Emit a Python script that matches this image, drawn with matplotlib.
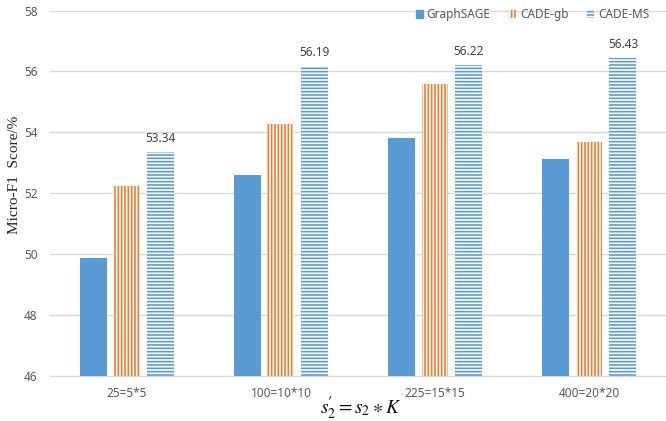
import matplotlib
matplotlib.use("Agg")
import matplotlib.pyplot as plt
import numpy as np
from matplotlib.patches import Patch

categories = ["25=5*5", "100=10*10", "225=15*15", "400=20*20"]
graphsage = [49.88, 52.60, 53.83, 53.11]
cade_gb = [52.25, 54.27, 55.59, 53.69]
cade_ms = [53.34, 56.19, 56.22, 56.43]
series_names = ["GraphSAGE", "CADE-gb", "CADE-MS"]
yticks = [46, 48, 50, 52, 54, 56, 58]

blue = "#5B9BD5"
orange = "#ED7D31"
grey_txt = "#595959"

plt.rcParams["hatch.linewidth"] = 1.2
plt.rcParams["font.family"] = ["Noto Sans", "DejaVu Sans"]
plt.rcParams["mathtext.fontset"] = "stix"

fig = plt.figure(figsize=(6.66, 4.21), dpi=100)
ax = fig.add_axes([0.075, 0.107, 0.925, 0.868])

x = np.arange(len(categories))
w = 0.175
off = 0.22
ax.bar(x - off, graphsage, w, color=blue, zorder=3)
ax.bar(x, cade_gb, w, facecolor="white", edgecolor=orange, hatch="|||||", linewidth=0, zorder=3)
ax.bar(x + off, cade_ms, w, facecolor="white", edgecolor=blue, hatch="-----", linewidth=0, zorder=3)

for xi, v in zip(x, cade_ms):
    ax.annotate(f"{v:.2f}", (xi + off, v), xytext=(0, 5), textcoords="offset points",
                ha="center", va="bottom", fontsize=8.5, color="#404040")

ax.set_ylim(46, 58)
ax.set_xlim(-0.5, 3.5)
ax.set_yticks(yticks)
ax.set_yticklabels([str(t) for t in yticks])
ax.set_xticks(x)
ax.set_xticklabels(categories)
ax.tick_params(axis="both", length=0, colors=grey_txt, labelsize=8.5)
ax.tick_params(axis="x", pad=8)
ax.tick_params(axis="y", pad=9)
ax.yaxis.grid(True, color="#D9D9D9", linewidth=1, zorder=0)
for s in ["top", "right", "left"]:
    ax.spines[s].set_visible(False)
ax.spines["bottom"].set_color("#D9D9D9")
ax.set_axisbelow(True)

fig.text(0.022, 0.585, "Micro-F1  Score/%", rotation=90, ha="center", va="center",
         fontsize=11, family=["Liberation Serif"], color="#222222")
fig.text(0.542, 0.03, r"$s_{2}^{\!\mathbf{\prime}} = s_{2} \ast K$", ha="center", va="center",
         fontsize=14, color="#111111")

handles = [Patch(facecolor=blue, edgecolor=blue),
           Patch(facecolor="white", edgecolor=orange, hatch="|||||", linewidth=0),
           Patch(facecolor="white", edgecolor=blue, hatch="-----", linewidth=0)]
leg = ax.legend(handles, series_names, ncol=3, loc="upper right",
                bbox_to_anchor=(0.99, 1.035), frameon=False, fontsize=8.5,
                handlelength=0.6, handleheight=0.6, handletextpad=0.3,
                columnspacing=1.6, labelcolor=grey_txt)

fig.savefig("out.png", dpi=100)
